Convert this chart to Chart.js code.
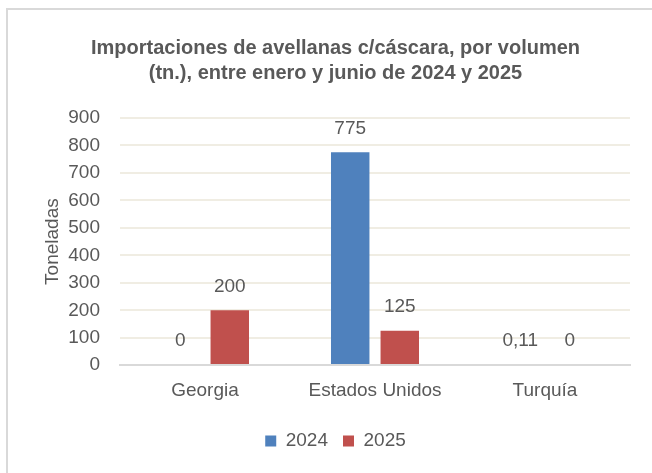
<!DOCTYPE html>
<html>
<head>
<meta charset="utf-8">
<script src="https://cdn.jsdelivr.net/npm/chart.js@4"></script>
<style>
  html, body { margin: 0; padding: 0; background: #fff; }
  #wrap { position: relative; width: 652px; height: 473px; overflow: hidden; }
  #frame { position: absolute; left: 6px; top: 8px; right: -4px; bottom: -4px;
           border-left: 2px solid #d9d9d9; border-top: 2px solid #d9d9d9; }
  canvas { position: absolute; left: 0; top: 0; }
</style>
</head>
<body>
<div id="wrap">
  <div id="frame"></div>
  <canvas id="chart" width="652" height="473"></canvas>
</div>
<script>
const categories = ["Georgia", "Estados Unidos", "Turquía"];
const values2024 = [0, 775, 0.11];
const values2025 = [200, 125, 0];
const seriesNames = ["2024", "2025"];
const yTicks = [0, 100, 200, 300, 400, 500, 600, 700, 800, 900];

const FONT = '"Liberation Sans Narrow", "Arial Narrow", "Liberation Sans", Arial, sans-serif';
const TEXT = "#595959";

function formatValue(v) {
    return String(v).replace(".", ",");
}

// draws value labels above each bar
const valueLabels = {
    id: "valueLabels",
    afterDatasetsDraw(chart) {
        const ctx = chart.ctx;
        ctx.save();
        ctx.font = "19px " + FONT;
        ctx.fillStyle = TEXT;
        ctx.textAlign = "center";
        ctx.textBaseline = "middle";
        chart.data.datasets.forEach(function (ds, i) {
            chart.getDatasetMeta(i).data.forEach(function (bar, j) {
                ctx.fillText(formatValue(ds.data[j]), bar.x, bar.y - 24);
            });
        });
        ctx.restore();
    }
};

new Chart(document.getElementById("chart"), {
    type: "bar",
    data: {
        labels: categories,
        datasets: [
            { label: seriesNames[0], data: values2024, backgroundColor: "#4f81bd" },
            { label: seriesNames[1], data: values2025, backgroundColor: "#c0504d" }
        ]
    },
    options: {
        responsive: false,
        animation: false,
        layout: { padding: { top: 10, left: 41, right: 22, bottom: 12.5 } },
        datasets: {
            bar: { categoryPercentage: 0.583, barPercentage: 0.776, inflateAmount: 0 }
        },
        scales: {
            x: {
                grid: { display: false },
                border: { display: true, color: "#d9d9d9", width: 2, z: 1 },
                ticks: { color: TEXT, font: { family: FONT, size: 19 }, padding: 6 },
                afterFit: function (scale) { scale.height += 8.5; }
            },
            y: {
                min: 0,
                max: 900,
                afterBuildTicks: function (axis) {
                    axis.ticks = yTicks.map(function (v) { return { value: v }; });
                },
                afterFit: function (scale) { scale.width = 79; },
                grid: {
                    color: "#f0ede3",
                    lineWidth: function (c) { return c.tick && c.tick.value === 0 ? 0 : 2; },
                    drawTicks: false
                },
                border: { display: false },
                ticks: { color: TEXT, font: { family: FONT, size: 19 }, padding: 20 },
                title: { display: true, text: "Toneladas", color: TEXT,
                         font: { family: FONT, size: 19 }, padding: { top: 0, bottom: 4 } }
            }
        },
        plugins: {
            title: {
                display: true,
                text: ["Importaciones de avellanas c/cáscara, por volumen",
                       "(tn.), entre enero y junio de 2024 y 2025"],
                color: TEXT,
                font: { family: FONT, size: 20, weight: "bold", lineHeight: 1.25 },
                padding: { top: 26, bottom: 32 }
            },
            legend: {
                position: "bottom",
                labels: { color: TEXT, font: { family: FONT, size: 19 },
                          boxWidth: 11, boxHeight: 11, padding: 15 }
            },
            tooltip: { enabled: false }
        }
    },
    plugins: [valueLabels]
});
</script>
</body>
</html>
